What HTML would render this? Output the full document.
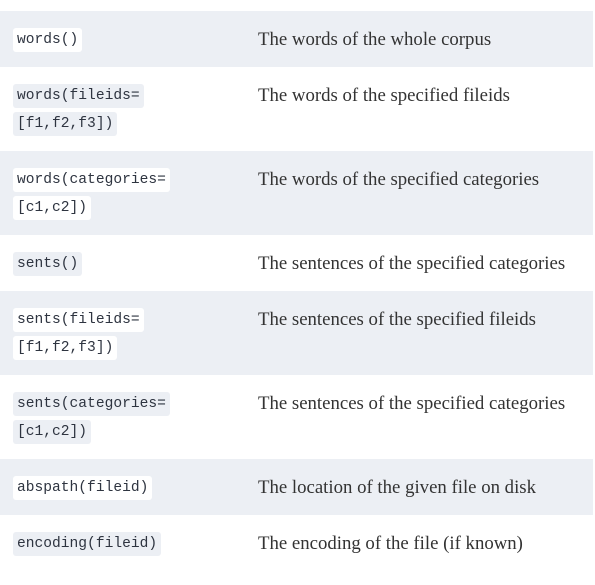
<!DOCTYPE html>
<html><head><style>
body{margin:0;width:595px;height:585px;background:#fff;position:relative;overflow:hidden}
.r{position:absolute;left:0;width:593px}
.g{background:#eceff4}
.c{position:absolute;left:13px;font:14.6px/28px "Liberation Mono",monospace;color:#2e3440}
.c span{padding:4px 4px;border-radius:3px;background:#eceff4;-webkit-box-decoration-break:clone;box-decoration-break:clone}
.g .c span{background:#fff}
.t{position:absolute;left:258px;font:18.8px/28px "Liberation Serif",serif;color:#333}
</style></head><body>
<div class="r g" style="top:11px;height:56px"><div class="c" style="top:15px"><span>words()</span></div><div class="t" style="top:15px">The words of the whole corpus</div></div>
<div class="r" style="top:67px;height:84px"><div class="c" style="top:15px"><span>words(fileids=</span><br><span>[f1,f2,f3])</span></div><div class="t" style="top:15px">The words of the specified fileids</div></div>
<div class="r g" style="top:151px;height:84px"><div class="c" style="top:15px"><span>words(categories=</span><br><span>[c1,c2])</span></div><div class="t" style="top:15px">The words of the specified categories</div></div>
<div class="r" style="top:235px;height:56px"><div class="c" style="top:15px"><span>sents()</span></div><div class="t" style="top:15px">The sentences of the specified categories</div></div>
<div class="r g" style="top:291px;height:84px"><div class="c" style="top:15px"><span>sents(fileids=</span><br><span>[f1,f2,f3])</span></div><div class="t" style="top:15px">The sentences of the specified fileids</div></div>
<div class="r" style="top:375px;height:84px"><div class="c" style="top:15px"><span>sents(categories=</span><br><span>[c1,c2])</span></div><div class="t" style="top:15px">The sentences of the specified categories</div></div>
<div class="r g" style="top:459px;height:56px"><div class="c" style="top:15px"><span>abspath(fileid)</span></div><div class="t" style="top:15px">The location of the given file on disk</div></div>
<div class="r" style="top:515px;height:56px"><div class="c" style="top:15px"><span>encoding(fileid)</span></div><div class="t" style="top:15px">The encoding of the file (if known)</div></div>
</body></html>
